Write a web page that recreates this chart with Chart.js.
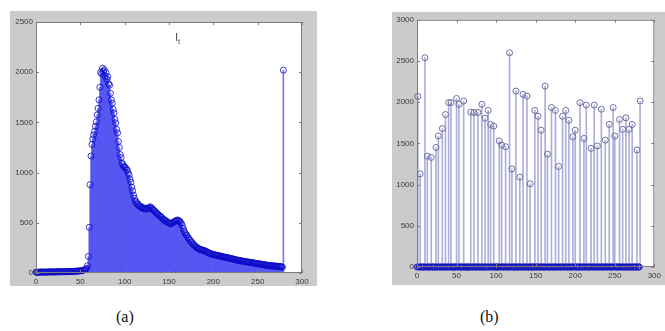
<!DOCTYPE html>
<html>
<head>
<meta charset="utf-8">
<script src="https://cdn.jsdelivr.net/npm/chart.js@4.4.1/dist/chart.umd.min.js"></script>
<style>
  body { margin: 0; background: #fff; width: 665px; height: 331px; position: relative; overflow: hidden; }
  .box { position: absolute; background: #cbcbcb; }
  .cap { position: absolute; font: 16px "Liberation Serif", serif; color: #111; }
  .ttl { position: absolute; font: 11px "Liberation Sans", sans-serif; color: #555; }
</style>
</head>
<body>
<div class="box" style="left:10px;top:11px;width:307px;height:275px"><canvas id="histA"></canvas></div>
<div class="box" style="left:392px;top:12px;width:273px;height:273px"><canvas id="histB"></canvas></div>
<div class="ttl" style="left:175px;top:31px">I<sub style="font-size:8px">t</sub></div>
<div class="cap" style="left:116px;top:308px">(a)</div>
<div class="cap" style="left:480px;top:308px">(b)</div>
<script>
// --- data (a): histogram, one value per grey level 0..279 ---
const aValues = [
  8, 5, 9, 6, 10, 7, 9, 12, 8, 10,
  7, 11, 9, 12, 8, 11, 10, 13, 9, 12,
  11, 9, 13, 10, 12, 14, 11, 13, 10, 14,
  12, 15, 11, 14, 16, 12, 15, 13, 16, 14,
  17, 14, 18, 15, 19, 16, 20, 18, 21, 19,
  22, 24, 23, 27, 29, 33, 38, 46, 72, 165,
  455, 880, 1165, 1280, 1335, 1375, 1410, 1460, 1505, 1575,
  1640, 1725, 1850, 2000, 1985, 2040, 2010, 2025, 1960, 1995,
  1930, 1955, 1885, 1870, 1790, 1725, 1690, 1630, 1595, 1530,
  1495, 1430, 1395, 1310, 1250, 1180, 1150, 1095, 1080, 1060,
  1055, 1050, 1030, 1025, 995, 975, 935, 905, 855, 820,
  775, 745, 715, 710, 685, 690, 670, 668, 655, 660,
  645, 650, 638, 642, 646, 635, 640, 648, 652, 660,
  648, 642, 628, 625, 612, 608, 595, 590, 582, 570,
  568, 556, 552, 538, 535, 522, 524, 512, 510, 502,
  498, 496, 488, 497, 502, 506, 512, 514, 522, 526,
  528, 518, 516, 505, 492, 472, 445, 418, 402, 382,
  378, 358, 348, 332, 326, 308, 302, 288, 282, 272,
  266, 255, 252, 243, 241, 234, 233, 228, 229, 222,
  224, 215, 216, 208, 206, 198, 197, 190, 191, 184,
  186, 180, 181, 176, 177, 172, 174, 168, 169, 163,
  165, 159, 161, 156, 157, 152, 154, 148, 149, 144,
  145, 140, 141, 136, 137, 132, 131, 127, 128, 124,
  125, 120, 121, 117, 118, 113, 115, 111, 112, 108,
  109, 105, 106, 103, 104, 99, 101, 96, 97, 93,
  94, 90, 92, 87, 89, 84, 86, 81, 83, 78,
  80, 75, 77, 73, 75, 71, 73, 69, 72, 68,
  70, 66, 68, 64, 67, 62, 65, 60, 58, 2020
];

// --- data (b): sparse histogram, non-zero bins only; all other bins are 0 ---
const bBins = [1, 4, 10, 13, 18, 24, 27, 32, 36, 40,
  43, 50, 53, 59, 68, 72, 77, 82, 86, 90,
  93, 97, 104, 107, 112, 117, 120, 125, 130, 134,
  139, 143, 149, 153, 157, 162, 165, 170, 175, 179,
  184, 188, 192, 197, 200, 206, 211, 214, 220, 224,
  228, 233, 238, 243, 248, 250, 256, 260, 264, 268,
  272, 278, 282];
const bValues = [2070, 1130, 2540, 1345, 1330, 1450, 1590, 1680, 1850, 1995,
  1995, 2045, 1975, 2015, 1880, 1875, 1875, 1975, 1805, 1900,
  1730, 1710, 1530, 1480, 1460, 2600, 1190, 2135, 1090, 2095,
  2075, 1010, 1900, 1830, 1660, 2195, 1370, 1935, 1900, 1220,
  1830, 1900, 1780, 1580, 1660, 1995, 1560, 1965, 1440, 1965,
  1470, 1915, 1540, 1730, 1935, 1590, 1790, 1670, 1810, 1670,
  1730, 1420, 2015];
const bBinCount = 283;

const xTicks = [0, 50, 100, 150, 200, 250, 300];
const aYTicks = [0, 500, 1000, 1500, 2000, 2500];
const bYTicks = [0, 500, 1000, 1500, 2000, 2500, 3000];

// build point tables
const aPoints = aValues.map((v, i) => ({ x: i, y: v }));
const bPeaks = bBins.map((b, i) => ({ x: b, y: bValues[i] }));
const bZeros = [];
for (let i = 0; i < bBinCount; i++) {
  if (!bBins.includes(i)) bZeros.push({ x: i, y: 0 });
}

// grey figure, white axes + box + inward MATLAB-like ticks
const axesFrame = {
  id: 'axesFrame',
  beforeDraw(chart) {
    const { ctx, width, height } = chart;
    ctx.save();
    ctx.fillStyle = '#cbcbcb';
    ctx.fillRect(0, 0, width, height);
    ctx.restore();
  },
  beforeDatasetsDraw(chart) {
    const { ctx, chartArea: a } = chart;
    ctx.save();
    ctx.fillStyle = '#ffffff';
    ctx.fillRect(a.left, a.top, a.right - a.left, a.bottom - a.top);
    ctx.restore();
  },
  afterDatasetsDraw(chart) {
    const { ctx, chartArea: a, scales } = chart;
    ctx.save();
    ctx.strokeStyle = '#7c7c7c';
    ctx.lineWidth = 1;
    ctx.strokeRect(a.left + 0.5, a.top + 0.5, a.right - a.left - 1, a.bottom - a.top - 1);
    ctx.beginPath();
    scales.x.ticks.forEach(t => {
      const px = Math.round(scales.x.getPixelForValue(t.value)) + 0.5;
      ctx.moveTo(px, a.bottom); ctx.lineTo(px, a.bottom - 3);
      ctx.moveTo(px, a.top); ctx.lineTo(px, a.top + 3);
    });
    scales.y.ticks.forEach(t => {
      const py = Math.round(scales.y.getPixelForValue(t.value)) + 0.5;
      ctx.moveTo(a.left, py); ctx.lineTo(a.left + 3, py);
      ctx.moveTo(a.right, py); ctx.lineTo(a.right - 3, py);
    });
    ctx.stroke();
    ctx.restore();
  }
};

function axes(yTicks, yMax, yWidth, xHeight) {
  const font = { family: 'Liberation Sans', size: 8 };
  return {
    x: {
      type: 'linear', min: 0, max: 300, offset: false,
      grid: { display: false, drawTicks: false }, border: { display: false },
      afterBuildTicks: s => { s.ticks = xTicks.map(v => ({ value: v })); },
      afterFit: s => { s.height = xHeight; },
      ticks: { font, color: '#3a3a3a', padding: 4, maxRotation: 0, callback: v => String(v) }
    },
    y: {
      min: 0, max: yMax,
      grid: { display: false, drawTicks: false }, border: { display: false },
      afterBuildTicks: s => { s.ticks = yTicks.map(v => ({ value: v })); },
      afterFit: s => { s.width = yWidth; },
      ticks: { font, color: '#3a3a3a', padding: 3, callback: v => String(v) }
    }
  };
}

const common = {
  responsive: true,
  maintainAspectRatio: false,
  animation: false,
  events: [],
  plugins: { legend: { display: false }, tooltip: { enabled: false } }
};

new Chart(document.getElementById('histA'), {
  type: 'scatter',
  data: {
    datasets: [
      { type: 'scatter', data: aPoints, pointRadius: 3, pointBorderWidth: 1, clip: false,
        borderColor: 'rgba(10,10,200,0.8)', backgroundColor: 'rgba(0,0,0,0)', order: 1 },
      { type: 'bar', data: aPoints, barThickness: 1, borderWidth: 0,
        backgroundColor: 'rgba(60,60,240,0.7)', order: 2 }
    ]
  },
  options: {
    ...common,
    layout: { padding: { top: 11, right: 15, left: 0, bottom: 0 } },
    scales: axes(aYTicks, 2500, 26, 13)
  },
  plugins: [axesFrame]
});

new Chart(document.getElementById('histB'), {
  type: 'scatter',
  data: {
    datasets: [
      { type: 'scatter', data: bZeros, pointRadius: 3, pointBorderWidth: 1, clip: false,
        borderColor: 'rgba(20,20,190,0.9)', backgroundColor: 'rgba(0,0,0,0)', order: 1 },
      { type: 'scatter', data: bPeaks, pointRadius: 3, pointBorderWidth: 1, clip: false,
        borderColor: '#6e6ea6', backgroundColor: 'rgba(0,0,0,0)', order: 1 },
      { type: 'bar', data: bPeaks, barThickness: 1, borderWidth: 0,
        backgroundColor: '#aeaedb', order: 2 }
    ]
  },
  options: {
    ...common,
    layout: { padding: { top: 6, right: 9, left: 0, bottom: 0 } },
    scales: axes(bYTicks, 3000, 25, 18)
  },
  plugins: [axesFrame]
});
</script>
</body>
</html>
